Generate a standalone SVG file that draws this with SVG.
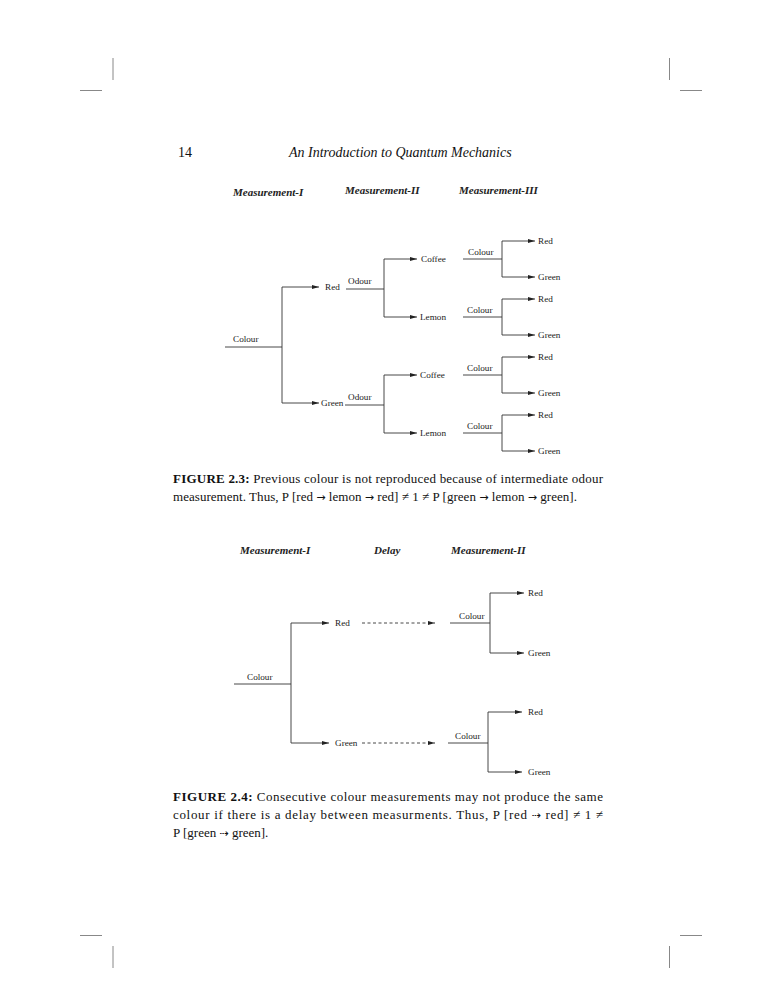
<svg xmlns="http://www.w3.org/2000/svg" width="772" height="1000" viewBox="0 0 772 1000">
<defs>
<style>
.bg{fill:#fff}
.ln{stroke:#333;stroke-width:0.9;fill:none}
.ar{stroke:#333;stroke-width:0.9;fill:none;marker-end:url(#ah)}
.da{stroke:#333;stroke-width:0.9;fill:none;stroke-dasharray:3,2.5;marker-end:url(#ah)}
.crop{stroke:#888;stroke-width:1;fill:none}
.lb{font-family:"Liberation Serif","DejaVu Serif",serif;font-size:9.2px;fill:#222}
.hd{font-family:"Liberation Serif","DejaVu Serif",serif;font-size:11px;font-style:italic;font-weight:bold;fill:#222}
.cap{font-family:"Liberation Serif","DejaVu Serif",serif;font-size:13px;fill:#111}
.sym{font-family:"DejaVu Sans",sans-serif;font-size:11px}
.ph{font-family:"Liberation Serif","DejaVu Serif",serif;font-size:14px;fill:#111}
</style>
<marker id="ah" markerWidth="7" markerHeight="4" refX="7" refY="2" orient="auto" markerUnits="userSpaceOnUse">
<path d="M0,0 L7,2 L0,4 z" fill="#222"/>
</marker>
</defs>
<rect class="bg" x="0" y="0" width="772" height="1000"/>
<g id="cropmarks">
<path class="crop" d="M113,58 V80 M80,90.5 H102 M669.5,58 V80 M680,90.5 H702 M80,935.5 H102 M113,946 V968 M680,935.5 H702 M669.5,946 V968"/>
</g>
<g id="page-header">
<text class="ph" x="178" y="157">14</text>
<text class="ph" x="289" y="157" font-style="italic">An Introduction to Quantum Mechanics</text>
</g>
<g id="fig23">
<g id="fig23-headers">
<text class="hd" x="233" y="196">Measurement-I</text>
<text class="hd" x="345" y="194">Measurement-II</text>
<text class="hd" x="459" y="194">Measurement-III</text>
</g>
<g id="fig23-connectors">
<path class="ln" d="M225,347 H282 M282,287 V403"/>
<path class="ar" d="M282,287 H319"/>
<path class="ar" d="M282,403 H319"/>
<path class="ln" d="M346,289 H384 M384,259 V317 M345,405 H384 M384,375 V433"/>
<path class="ar" d="M384,259 H417"/>
<path class="ar" d="M384,317 H417"/>
<path class="ar" d="M384,375 H417"/>
<path class="ar" d="M384,433 H417"/>
<path class="ln" d="M463,259 H502 M502,241 V277 M463,317 H502 M502,299 V335 M463,375 H502 M502,357 V393 M463,433 H502 M502,415 V451"/>
<path class="ar" d="M502,241 H535"/>
<path class="ar" d="M502,277 H535"/>
<path class="ar" d="M502,299 H535"/>
<path class="ar" d="M502,335 H535"/>
<path class="ar" d="M502,357 H535"/>
<path class="ar" d="M502,393 H535"/>
<path class="ar" d="M502,415 H535"/>
<path class="ar" d="M502,451 H535"/>
</g>
<g id="f1-root"><text class="lb" x="233" y="342">Colour</text></g>
<g id="f1-red"><text class="lb" x="325" y="290">Red</text><text class="lb" x="348" y="284">Odour</text></g>
<g id="f1-green"><text class="lb" x="321" y="406">Green</text><text class="lb" x="348" y="400">Odour</text></g>
<g id="f1-coffee1"><text class="lb" x="421" y="262">Coffee</text><text class="lb" x="468" y="255">Colour</text></g>
<g id="f1-lemon1"><text class="lb" x="420" y="320">Lemon</text><text class="lb" x="467" y="313">Colour</text></g>
<g id="f1-coffee2"><text class="lb" x="420" y="378">Coffee</text><text class="lb" x="467" y="371">Colour</text></g>
<g id="f1-lemon2"><text class="lb" x="420" y="436">Lemon</text><text class="lb" x="467" y="429">Colour</text></g>
<g id="f1-leaves">
<text class="lb" x="538" y="244">Red</text><text class="lb" x="538" y="280">Green</text>
<text class="lb" x="538" y="302">Red</text><text class="lb" x="538" y="338">Green</text>
<text class="lb" x="538" y="360">Red</text><text class="lb" x="538" y="396">Green</text>
<text class="lb" x="538" y="418">Red</text><text class="lb" x="538" y="454">Green</text>
</g>
<g id="fig23-caption">
<text class="cap" x="173" y="483" textLength="430" lengthAdjust="spacing"><tspan font-weight="bold">FIGURE 2.3:</tspan> Previous colour is not reproduced because of intermediate odour</text>
<text class="cap" x="173" y="501" textLength="404" lengthAdjust="spacing">measurement. Thus, P [red <tspan class="sym">→</tspan> lemon <tspan class="sym">→</tspan> red] ≠ 1 ≠ P [green <tspan class="sym">→</tspan> lemon <tspan class="sym">→</tspan> green].</text>
</g>
</g>
<g id="fig24">
<g id="fig24-headers">
<text class="hd" x="240" y="554">Measurement-I</text>
<text class="hd" x="374" y="554">Delay</text>
<text class="hd" x="451" y="554">Measurement-II</text>
</g>
<g id="fig24-connectors">
<path class="ln" d="M234,684 H291 M291,623 V743"/>
<path class="ar" d="M291,623 H329"/>
<path class="ar" d="M291,743 H329"/>
<path class="da" d="M362,623 H435"/>
<path class="da" d="M362,743 H435"/>
<path class="ln" d="M450,623 H490 M490,593 V653 M448,743 H488 M488,712 V772"/>
<path class="ar" d="M490,593 H524"/>
<path class="ar" d="M490,653 H524"/>
<path class="ar" d="M488,712 H522"/>
<path class="ar" d="M488,772 H522"/>
</g>
<g id="f2-root"><text class="lb" x="247" y="680">Colour</text></g>
<g id="f2-red"><text class="lb" x="335" y="626">Red</text></g>
<g id="f2-green"><text class="lb" x="335" y="746">Green</text></g>
<g id="f2-colour1"><text class="lb" x="459" y="619">Colour</text></g>
<g id="f2-colour2"><text class="lb" x="455" y="739">Colour</text></g>
<g id="f2-leaves">
<text class="lb" x="528" y="596">Red</text><text class="lb" x="528" y="656">Green</text>
<text class="lb" x="528" y="715">Red</text><text class="lb" x="528" y="775">Green</text>
</g>
<g id="fig24-caption">
<text class="cap" x="173" y="801" textLength="430" lengthAdjust="spacing"><tspan font-weight="bold">FIGURE 2.4:</tspan> Consecutive colour measurements may not produce the same</text>
<text class="cap" x="173" y="819" textLength="430" lengthAdjust="spacing">colour if there is a delay between measurments. Thus, P [red <tspan class="sym">⇢</tspan> red] ≠ 1 ≠</text>
<text class="cap" x="173" y="837">P [green <tspan class="sym">⇢</tspan> green].</text>
</g>
</g>
</svg>
